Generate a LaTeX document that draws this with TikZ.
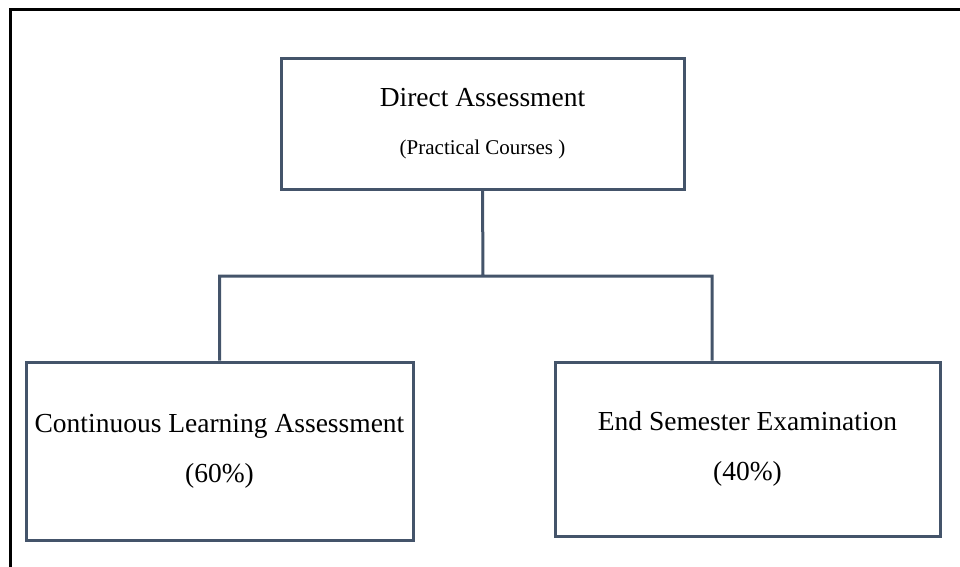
\documentclass[tikz,border=0pt]{standalone}
\usepackage{fontspec}
\setmainfont{Liberation Serif}
\usetikzlibrary{calc}

\definecolor{boxline}{HTML}{44546A}

\begin{document}
\begin{tikzpicture}[x=1pt, y=-1pt,
    box/.style={draw=boxline, line width=3pt, rectangle, inner sep=0pt, align=center},
    link/.style={draw=boxline, line width=3pt}]
    \useasboundingbox (0,0) rectangle (960,566);

    % frame round the page
    \draw[line width=3.4pt, line cap=rect] (10.5,566) -- (10.5,9.7) -- (960,9.7);

    \node[box, minimum width=403pt, minimum height=131pt,
          font=\fontsize{27.5}{48}\selectfont] (da) at (482.5,123.5)
          {Direct Assessment\\{\fontsize{21}{48}\selectfont (Practical Courses )}};
    \node[box, minimum width=387pt, minimum height=178pt,
          font=\fontsize{27.5}{50}\selectfont] (cla) at (219.5,451)
          {Continuous Learning Assessment\\(60\%)};
    \node[box, minimum width=385pt, minimum height=174pt,
          font=\fontsize{27.5}{50}\selectfont] (ese) at (747.5,449)
          {End Semester Examination\\(40\%)};

    \coordinate (split) at (483,276);
    \coordinate (rdrop) at (712,276);

    \path[link]
      (da.south) -- (split)
      (cla.north) |- (rdrop) -- (rdrop |- ese.north);
  \end{tikzpicture}
\end{document}
